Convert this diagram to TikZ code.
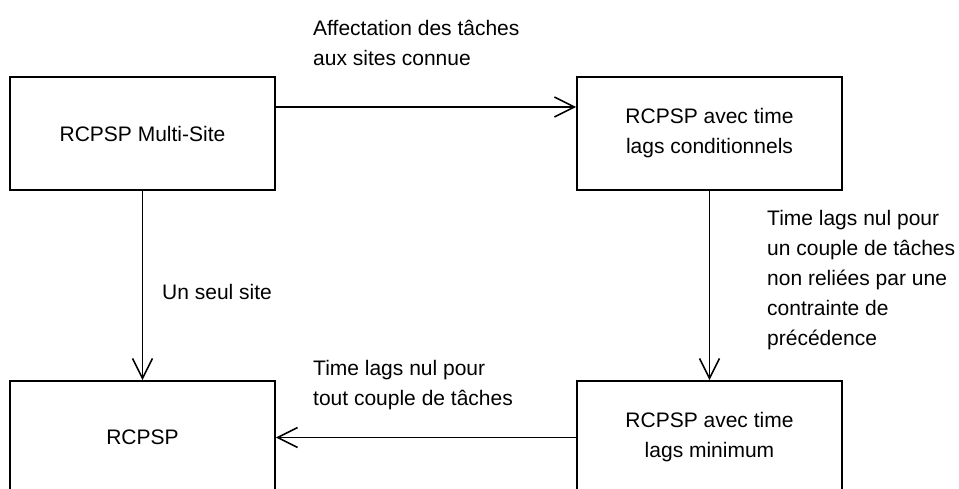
\documentclass[tikz,border=0pt]{standalone}
\usepackage{fontspec}
\setmainfont{Liberation Sans}
\usetikzlibrary{arrows.meta}

\begin{document}
\begin{tikzpicture}[x=1pt,y=-1pt,
  txt/.style={font=\fontsize{21}{30}\selectfont},
  box/.style={txt, draw, line width=1.6pt, minimum width=265pt, minimum height=113pt,
              inner sep=0pt, align=center},
  lbl/.style={txt, anchor=north west, inner sep=0pt, align=left},
  link/.style={line width=1.6pt, -{Straight Barb[length=20pt,width=20pt]}}]
\useasboundingbox (0,0) rectangle (959,489);
\clip (0,0) rectangle (959,489);

% problem variants
\node[box] (ms)   at (142.5,133.5) {RCPSP Multi-Site};
\node[box] (cond) at (709.5,133.5) {RCPSP avec time\\lags conditionnels};
\node[box] (base) at (142.5,437.5) {RCPSP};
\node[box] (min)  at (709.5,437.5) {RCPSP avec time\\lags minimum};

% reductions between variants
\draw[link] ([yshift=26.5pt]ms.east) -- ([yshift=26.5pt]cond.west);
\draw[link] (ms.south) -- (base.north);
\draw[link] (cond.south) -- (min.north);
\draw[link] (min.west) -- (base.east);

% conditions attached to each reduction
\node[lbl] (l1) at (313,20)  {Affectation des tâches\\aux sites connue};
\node[lbl] (l2) at (162,284) {Un seul site};
\node[lbl] (l3) at (767,210) {Time lags nul pour\\un couple de tâches\\non reliées par une\\contrainte de\\précédence};
\node[lbl] (l4) at (313,360) {Time lags nul pour\\tout couple de tâches};
\end{tikzpicture}
\end{document}
